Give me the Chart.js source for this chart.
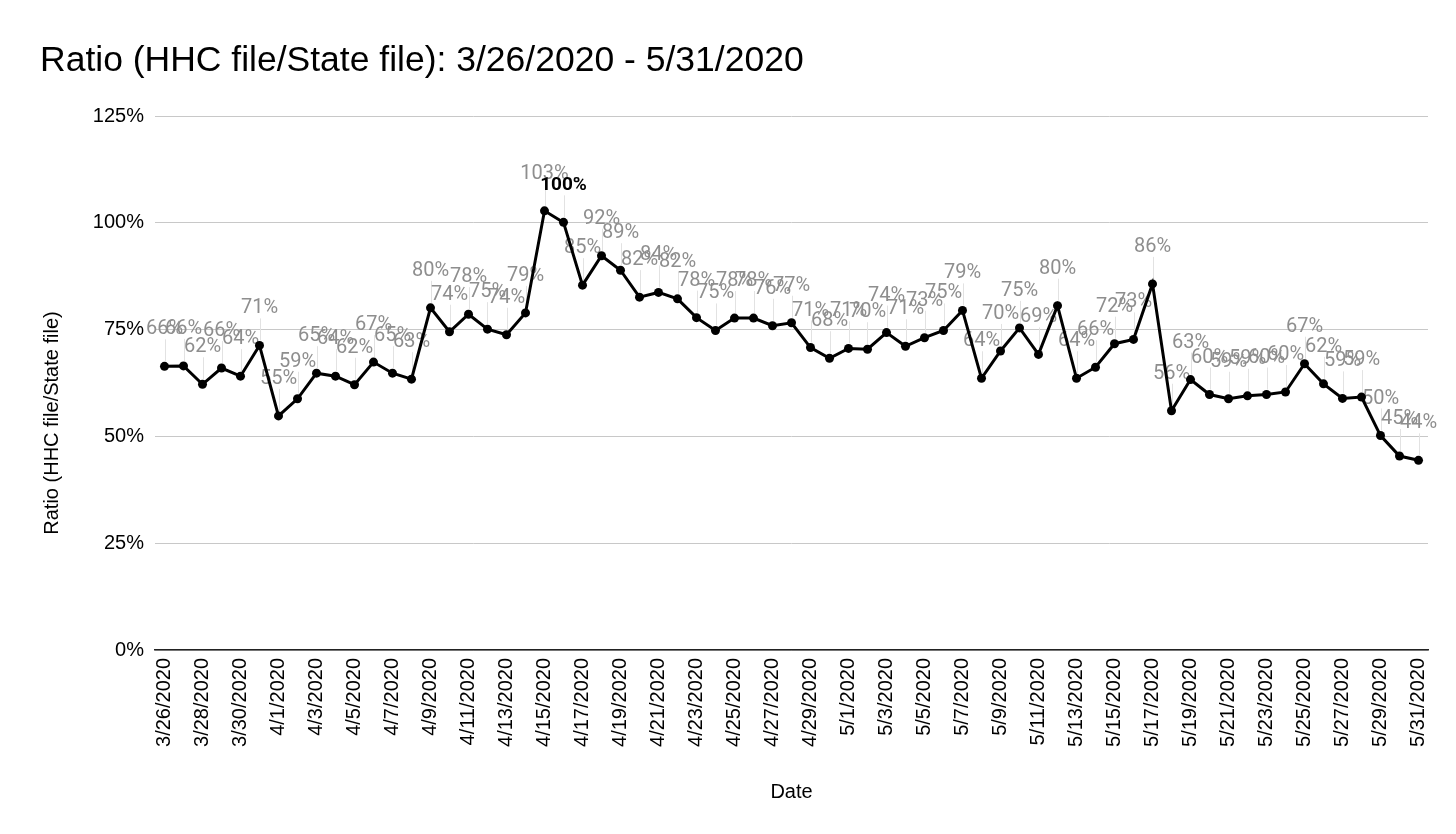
<!DOCTYPE html>
<html>
<head>
<meta charset="utf-8">
<script src="https://cdn.jsdelivr.net/npm/chart.js@4/dist/chart.umd.min.js"></script>
<style>
  html, body { margin: 0; padding: 0; background: #fff; }
  #c { display: block; }
</style>
</head>
<body>
<canvas id="c" width="1456" height="834"></canvas>
<script>
const chartTitle = 'Ratio (HHC file/State file): 3/26/2020 - 5/31/2020';
const yAxisTitle = 'Ratio (HHC file/State file)';
const xAxisTitle = 'Date';

const categories = [
  '3/26/2020','3/27/2020','3/28/2020','3/29/2020','3/30/2020','3/31/2020',
  '4/1/2020','4/2/2020','4/3/2020','4/4/2020','4/5/2020','4/6/2020','4/7/2020','4/8/2020','4/9/2020','4/10/2020',
  '4/11/2020','4/12/2020','4/13/2020','4/14/2020','4/15/2020','4/16/2020','4/17/2020','4/18/2020','4/19/2020','4/20/2020',
  '4/21/2020','4/22/2020','4/23/2020','4/24/2020','4/25/2020','4/26/2020','4/27/2020','4/28/2020','4/29/2020','4/30/2020',
  '5/1/2020','5/2/2020','5/3/2020','5/4/2020','5/5/2020','5/6/2020','5/7/2020','5/8/2020','5/9/2020','5/10/2020',
  '5/11/2020','5/12/2020','5/13/2020','5/14/2020','5/15/2020','5/16/2020','5/17/2020','5/18/2020','5/19/2020','5/20/2020',
  '5/21/2020','5/22/2020','5/23/2020','5/24/2020','5/25/2020','5/26/2020','5/27/2020','5/28/2020','5/29/2020','5/30/2020',
  '5/31/2020'
];

// Ratio in percent
const ratioValues = [
  66.4, 66.5, 62.2, 66.0, 64.1, 71.3,
  54.8, 58.8, 64.8, 64.1, 62.1, 67.4, 64.8, 63.4, 80.1, 74.5,
  78.6, 75.1, 73.8, 78.9, 102.8, 100.1, 85.4, 92.3, 88.9, 82.6,
  83.7, 82.2, 77.8, 74.8, 77.7, 77.7, 75.9, 76.6, 70.8, 68.3,
  70.6, 70.4, 74.3, 71.1, 73.1, 74.8, 79.5, 63.6, 70.0, 75.4,
  69.2, 80.6, 63.6, 66.2, 71.7, 72.7, 85.7, 56.0, 63.3, 59.8,
  58.8, 59.5, 59.8, 60.4, 67.0, 62.3, 58.9, 59.2, 50.2, 45.4,
  44.4
];

const valueLabels = [
  '66%','66%','62%','66%','64%','71%',
  '55%','59%','65%','64%','62%','67%','65%','63%','80%','74%',
  '78%','75%','74%','79%','103%','100%','85%','92%','89%','82%',
  '84%','82%','78%','75%','78%','78%','76%','77%','71%','68%',
  '71%','70%','74%','71%','73%','75%','79%','64%','70%','75%',
  '69%','80%','64%','66%','72%','73%','86%','56%','63%','60%',
  '59%','59%','60%','60%','67%','62%','59%','59%','50%','45%',
  '44%'
];

const highlightIndex = 21; // 4/16/2020 shown in bold

const yTicks = [0, 25, 50, 75, 100, 125];

const FONT = "'Liberation Sans', Arial, sans-serif";

const labelPlugin = {
  id: 'pointLabels',
  beforeDatasetsDraw(chart) {
    const ctx = chart.ctx;
    const meta = chart.getDatasetMeta(0);
    ctx.save();
    ctx.strokeStyle = '#e2e2e2';
    ctx.lineWidth = 1;
    meta.data.forEach((pt) => {
      ctx.beginPath();
      ctx.moveTo(Math.round(pt.x) + 0.5, pt.y - 27);
      ctx.lineTo(Math.round(pt.x) + 0.5, pt.y - 5);
      ctx.stroke();
    });
    ctx.textAlign = 'center';
    ctx.textBaseline = 'middle';
    meta.data.forEach((pt, i) => {
      if (i === highlightIndex) return;
      ctx.font = "20px Roboto, 'Noto Sans', sans-serif";
      ctx.fillStyle = '#8e8e8e';
      ctx.fillText(valueLabels[i], pt.x, pt.y - 37);
    });
    const hp = meta.data[highlightIndex];
    ctx.font = "bold 19px Roboto, 'Noto Sans', sans-serif";
    ctx.fillStyle = '#000';
    ctx.fillText(valueLabels[highlightIndex], hp.x, hp.y - 37);
    ctx.restore();
  },
  afterDraw(chart) {
    const ctx = chart.ctx;
    ctx.save();
    ctx.translate(52, 423);
    ctx.rotate(-Math.PI / 2);
    ctx.font = '20px ' + FONT;
    ctx.fillStyle = '#000';
    ctx.textAlign = 'center';
    ctx.textBaseline = 'middle';
    ctx.fillText(yAxisTitle, 0, 0);
    ctx.restore();
  }
};

new Chart(document.getElementById('c'), {
  type: 'line',
  data: {
    labels: categories,
    datasets: [{
      data: ratioValues,
      borderColor: '#000',
      backgroundColor: '#000',
      borderWidth: 3,
      pointRadius: 4.5,
      pointBackgroundColor: '#000',
      pointBorderColor: '#000',
      pointBorderWidth: 0,
      tension: 0,
      fill: false
    }]
  },
  options: {
    responsive: false,
    devicePixelRatio: 1,
    animation: false,
    layout: { padding: { left: 40, right: 28, top: 0, bottom: 20 } },
    plugins: {
      legend: { display: false },
      tooltip: { enabled: false },
      title: {
        display: true,
        text: chartTitle,
        align: 'start',
        color: '#000',
        font: { family: FONT, size: 35.5, weight: 'normal' },
        padding: { top: 40, bottom: 33.4 }
      }
    },
    scales: {
      x: {
        type: 'category',
        offset: true,
        grid: { display: false, drawTicks: false },
        border: { display: true, color: '#222', width: 1.5 },
        ticks: {
          autoSkip: false,
          maxRotation: 90,
          minRotation: 90,
          padding: 8,
          color: '#000',
          font: { family: FONT, size: 20 },
          callback: (v, i) => (i % 2 === 0 ? categories[i] : '')
        },
        title: {
          display: true,
          text: xAxisTitle,
          color: '#000',
          font: { family: FONT, size: 20 },
          padding: { top: 0, bottom: 10 }
        },
        afterFit: (s) => { s.height = 164; }
      },
      y: {
        min: 0,
        max: 125,
        afterBuildTicks: (s) => { s.ticks = yTicks.map(v => ({ value: v })); },
        grid: { color: '#c8c8c8', drawTicks: false, lineWidth: 1 },
        border: { display: false },
        ticks: {
          padding: 11,
          color: '#000',
          font: { family: FONT, size: 20 },
          callback: (v) => v + '%'
        },
        afterFit: (s) => { s.width = 115; }
      }
    }
  },
  plugins: [labelPlugin]
});
</script>
</body>
</html>
